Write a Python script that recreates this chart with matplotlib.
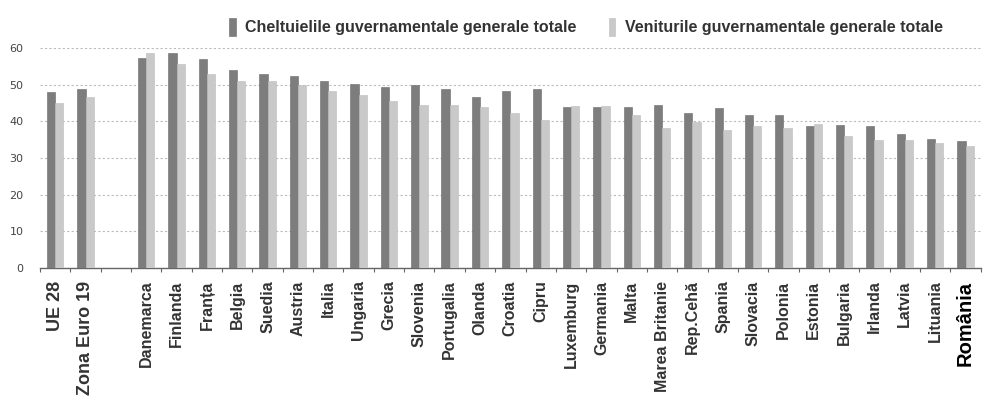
import matplotlib
matplotlib.use("Agg")
import matplotlib.pyplot as plt
import numpy as np

categories = ["UE 28", "Zona Euro 19", "Danemarca", "Finlanda", "Franța", "Belgia",
              "Suedia", "Austria", "Italia", "Ungaria", "Grecia", "Slovenia",
              "Portugalia", "Olanda", "Croatia", "Cipru", "Luxemburg", "Germania",
              "Malta", "Marea Britanie", "Rep.Cehă", "Spania", "Slovacia", "Polonia",
              "Estonia", "Bulgaria", "Irlanda", "Latvia", "Lituania", "România"]
cheltuieli = [48.1, 48.7, 57.2, 58.7, 57.1, 54.0, 52.9, 52.3, 50.9, 50.2, 49.3, 49.9,
              48.8, 46.5, 48.2, 48.8, 44.0, 44.0, 44.0, 44.4, 42.3, 43.5, 41.8, 41.8,
              38.6, 39.1, 38.7, 36.6, 35.1, 34.5]
venituri = [45.0, 46.5, 58.6, 55.5, 52.9, 50.9, 50.9, 50.0, 48.2, 47.2, 45.6, 44.5,
            44.5, 44.0, 42.3, 40.3, 44.3, 44.3, 41.8, 38.3, 39.7, 37.6, 38.6, 38.3,
            39.3, 36.1, 35.0, 35.0, 34.0, 33.3]
yticks = [0, 10, 20, 30, 40, 50, 60]
legend_labels = ["Cheltuielile guvernamentale generale totale",
                 "Veniturile guvernamentale generale totale"]

dark = "#7d7d7d"
light = "#c9c9c9"

fig = plt.figure(figsize=(9.86, 4.0), dpi=100)
ax = fig.add_axes([0.0406, 0.33, 0.954, 0.55])

n = len(categories)
pos = np.array([i if i < 2 else i + 1 for i in range(n)], dtype=float)
w = 0.27
ax.bar(pos - w / 2, cheltuieli, width=w, color=dark, edgecolor="#6a6a6a", linewidth=0.4, zorder=3,
       label=legend_labels[0])
ax.bar(pos + w / 2, venituri, width=w, color=light, edgecolor="#bdbdbd", linewidth=0.4, zorder=3,
       label=legend_labels[1])

ax.set_xlim(-0.5, n + 0.5)
ax.set_ylim(0, 60)
ax.set_yticks(yticks)
ax.set_yticklabels([str(v) for v in yticks], fontsize=8, color="#444444")
ax.tick_params(axis="y", length=0, pad=12)
ax.grid(axis="y", linestyle=(0, (2, 2)), color="#bbbbbb", linewidth=0.8, zorder=0)

for s in ["top", "right", "left"]:
    ax.spines[s].set_visible(False)
ax.spines["bottom"].set_color("#666666")
ax.spines["bottom"].set_linewidth(1.0)

ax.set_xticks(pos)
ax.set_xticks(np.arange(-0.5, n + 1, 1.0), minor=True)
ax.tick_params(axis="x", which="major", length=0, pad=9)
ax.tick_params(axis="x", which="minor", length=3, color="#666666", width=0.8)
ax.set_xticklabels(categories, rotation=90, fontsize=11.5, fontweight="bold", color="#333333",
                   family="Liberation Sans")
for lbl in ax.get_xticklabels():
    t = lbl.get_text()
    if t in ("UE 28", "Zona Euro 19"):
        lbl.set_fontsize(13)
    if t == "România":
        lbl.set_fontsize(14.5)
        lbl.set_color("#000000")

leg = fig.legend(loc="upper left", bbox_to_anchor=(0.218, 0.99), ncol=2, frameon=False,
                 handlelength=0.4, handleheight=1.3, handletextpad=0.6, columnspacing=2.0,
                 prop={"family": "Liberation Sans", "size": 11.5, "weight": "bold"})
for t in leg.get_texts():
    t.set_color("#333333")

fig.savefig("out.png", dpi=100)
